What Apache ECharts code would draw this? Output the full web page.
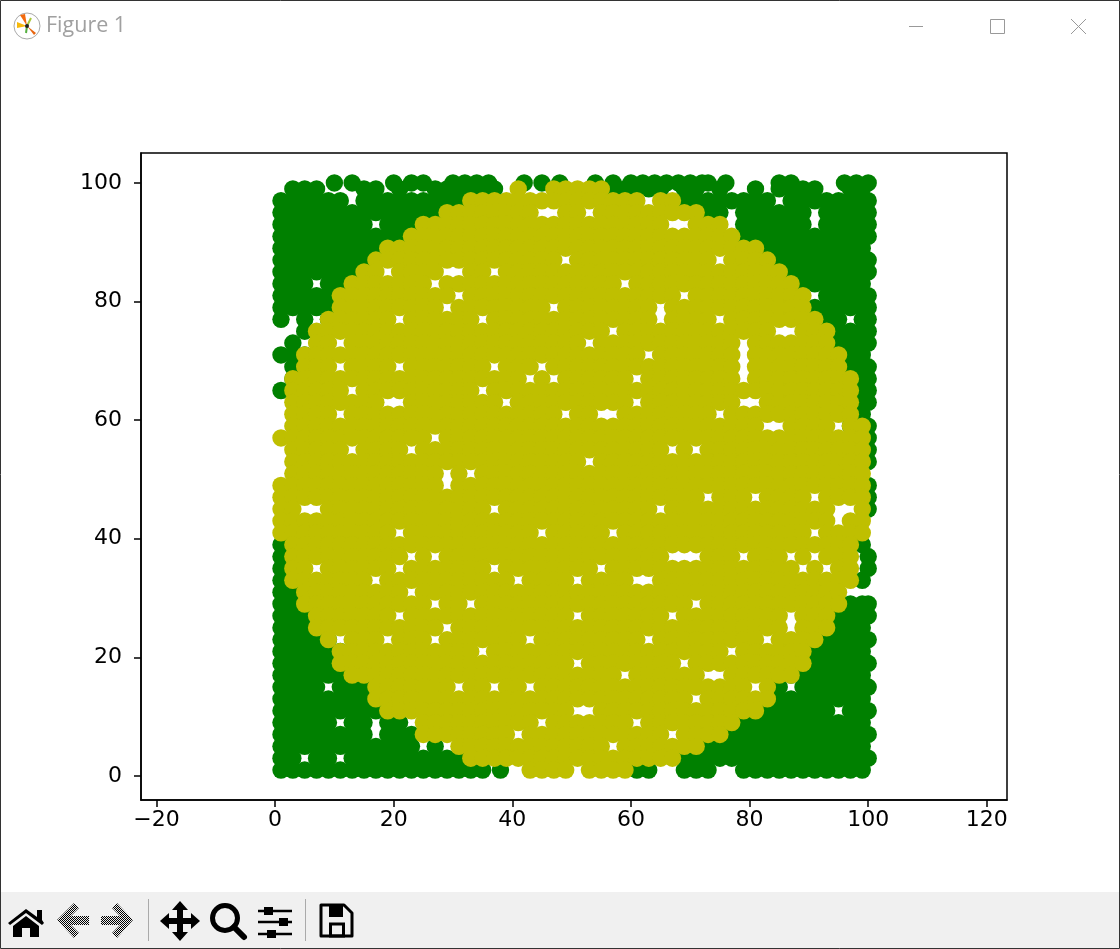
<!DOCTYPE html>
<html><head><meta charset="utf-8"><title>Figure 1</title>
<script src="https://cdn.jsdelivr.net/npm/echarts@6/dist/echarts.min.js"></script>
<style>html,body{margin:0;padding:0;background:#fff}#c{width:1120px;height:949px}</style>
</head><body><div id="c"></div>
<script>
const xTicks=[-20,0,20,40,60,80,100,120];
const yTicks=[0,20,40,60,80,100];
// each row: first number is y, the rest are the x values read at that y
const greenRows=[
[100,10,13,20,23,25,30,32,34,36,42,45,48,54,57,60,62,64,66,68,70,72,73,76,85,87,96,98,100],
[99,3,5,7,15,17,21,27,29,31,33,35,37,57,59,61,63,65,69,71,75,81,85,87,89,91,97,99],
[97,1,3,5,7,9,11,15,17,19,21,23,25,27,29,31,69,71,73,75,77,79,81,83,87,89,91,93,95,97,99,100],
[95,1,3,5,7,9,11,13,15,17,19,21,23,25,27,73,75,79,81,83,85,87,89,93,95,97,99,100],
[93,1,3,5,7,9,11,13,15,19,21,23,79,81,83,85,87,89,93,95,97,99,100],
[91,1,3,5,7,9,11,13,15,17,19,21,79,81,83,85,87,89,91,93,95,97,99,100],
[89,1,3,5,7,9,11,13,15,17,83,85,87,89,91,93,95,97,99],
[87,1,3,5,7,9,11,13,15,85,87,89,91,93,95,97,99,100],
[85,1,3,5,7,9,11,13,87,89,91,93,95,97,99,100],
[83,1,3,5,9,11,89,91,93,95,97,99],
[81,1,3,5,7,9,93,95,97,99,100],
[79,1,3,5,7,9,91,93,95,97,99,100],
[77,1,5,9,93,95,99,100],
[75,5,95,97,99,100],
[73,3,95,97,99,100],
[71,1,3,5,97,99],
[69,3,97,99,100],
[67,3,97,99,100],
[65,1,99,100],
[63,99,100],
[61,99],
[59,97,99,100],
[57,100],[55,100],[53,100],[49,100],[47,100],[45,100],
[39,1,99],
[37,1,100],
[35,1,3,100],
[33,1,3,99],
[31,1,3],
[29,1,3,95,97,99,100],
[27,1,3,5,93,95,97,99,100],
[25,1,3,5,7,93,95,97,99],
[23,1,3,5,7,9,91,93,95,97,99,100],
[21,1,3,5,7,9,11,89,91,93,95,97,99],
[19,1,3,5,7,9,11,89,91,93,95,97,99,100],
[17,1,3,5,7,9,11,13,87,89,91,93,95,97,99],
[15,1,3,5,7,11,13,15,85,89,91,93,95,97,99,100],
[13,1,3,5,7,9,11,13,15,17,83,85,87,89,91,93,95,97,99],
[11,1,3,5,7,9,11,13,15,17,19,81,83,85,87,89,91,93,97,99,100],
[9,1,3,5,7,9,13,15,19,21,79,81,83,85,87,89,91,93,95,97,99],
[7,1,3,5,7,9,11,13,15,19,21,23,75,77,79,81,83,85,87,89,91,93,95,97,99,100],
[5,1,3,5,7,9,11,13,15,17,19,21,23,27,71,73,75,77,79,81,83,85,87,89,91,93,95,97,99],
[3,1,3,7,9,13,15,17,19,21,23,25,27,29,31,61,63,69,71,73,75,77,79,81,83,85,87,89,91,93,95,97,99,100],
[1,1,3,5,7,9,11,13,15,17,19,21,23,25,27,29,31,33,35,38,61,63,69,71,73,79,81,83,85,87,89,91,93,95,97,99]
];
const yellowRows=[
[99,41,47,49,51,53,55],
[97,33,35,37,39,41,43,45,47,49,51,53,55,57,59,61,65,67],
[95,29,31,33,35,37,39,41,43,49,51,55,57,59,61,63,65,67,69,71],
[93,25,27,29,31,33,35,37,39,41,43,45,47,49,51,53,55,57,59,61,63,65,71,73,75],
[91,23,25,27,29,31,33,35,37,39,41,43,45,47,49,51,53,55,57,59,61,63,65,67,69,71,73,75,77],
[89,19,21,23,25,27,29,31,33,35,37,39,41,43,45,47,49,51,53,55,57,59,61,63,65,67,69,71,73,75,77,79,81],
[87,17,19,21,23,25,27,29,31,33,35,37,39,41,43,45,47,51,53,55,57,59,61,63,65,67,69,71,73,77,79,81,83],
[85,15,17,21,23,25,27,33,35,39,41,43,45,47,49,51,53,55,57,59,61,63,65,67,69,71,73,75,77,79,81,83,85],
[83,13,15,17,19,21,23,25,29,31,33,35,37,39,41,43,45,47,49,51,53,55,57,61,63,65,67,69,71,73,75,77,79,81,83,85,87],
[81,11,13,15,17,19,21,23,25,27,29,33,35,37,39,41,43,45,47,49,51,53,55,57,59,61,63,65,67,71,73,75,77,79,81,83,85,87,89],
[79,11,13,15,17,19,21,23,25,27,31,33,35,37,39,41,43,45,49,51,53,55,57,59,61,63,67,69,71,73,75,77,79,81,83,85,87,89],
[77,9,11,13,15,17,19,23,25,27,29,31,33,37,39,41,43,45,47,49,51,53,55,57,59,61,63,67,69,71,73,77,79,81,83,85,87,89,91],
[75,7,9,11,13,15,17,19,21,23,25,27,29,31,33,35,37,39,41,43,45,47,49,51,53,55,59,61,63,65,67,69,71,73,75,77,79,81,83,89,91,93],
[73,7,9,13,15,17,19,21,23,25,27,29,31,33,35,37,39,41,43,45,47,49,51,55,57,59,61,63,65,67,69,71,73,75,77,81,83,85,87,89,91,93],
[71,5,7,9,11,13,15,17,19,21,23,25,27,29,31,33,35,37,39,41,43,45,47,49,51,53,55,57,59,61,65,67,69,71,73,75,77,81,83,85,87,89,91,93,95],
[69,5,7,9,13,15,17,19,23,25,27,29,31,33,35,39,41,43,47,49,51,53,55,57,59,61,63,65,67,69,71,73,75,77,81,83,85,87,89,91,93,95],
[67,3,5,7,9,11,13,15,17,19,21,23,25,27,29,31,33,35,37,39,41,45,49,51,53,55,57,59,63,65,67,69,71,73,75,77,81,83,85,87,89,91,93,95,97],
[65,3,5,7,9,11,15,17,19,21,23,25,27,29,31,33,37,39,41,43,45,47,49,51,53,55,57,59,61,63,65,67,69,71,73,75,77,79,81,83,85,87,89,91,93,95,97],
[63,3,5,7,9,11,13,15,17,23,25,27,29,31,33,35,37,41,43,45,47,49,51,53,55,57,59,63,65,67,69,71,73,75,77,83,85,87,89,91,93,95,97],
[61,3,5,7,9,13,15,17,19,21,23,25,27,29,31,33,35,37,39,41,43,45,47,51,53,59,61,63,65,67,69,71,73,77,79,81,83,85,87,89,91,93,95,97],
[59,3,5,7,9,11,13,15,17,19,21,23,25,27,29,31,33,35,37,39,41,43,45,47,49,51,53,55,57,59,61,63,65,67,69,71,73,75,77,79,81,87,89,91,93,97,99],
[57,1,3,5,7,9,11,13,15,17,19,21,23,25,29,31,33,35,37,39,41,43,45,47,49,51,53,55,57,59,61,63,65,67,69,71,73,75,77,79,81,83,85,87,89,91,93,95,97,99],
[55,3,5,7,9,11,15,17,19,21,25,27,29,31,33,35,37,39,41,43,45,47,49,51,53,55,57,59,61,63,65,69,73,75,77,79,81,83,85,87,89,91,93,95,97,99],
[53,3,5,7,9,11,13,15,17,19,21,23,25,27,29,31,33,35,37,39,41,43,45,47,49,51,55,57,59,61,63,65,67,69,71,73,75,77,79,81,83,85,87,89,91,93,95,97,99],
[51,3,5,7,9,11,13,15,17,19,21,23,25,27,31,35,37,39,41,43,45,47,49,51,53,55,57,59,61,63,65,67,69,71,73,75,77,79,81,83,85,87,89,91,93,95,97,99],
[49,1,3,5,7,9,11,13,15,17,19,21,23,25,27,31,33,35,37,39,41,43,45,47,49,51,53,55,57,59,61,63,65,67,69,71,73,75,77,79,81,83,85,87,89,91,93,95,97,99],
[47,1,3,5,7,9,11,13,15,17,19,21,23,25,27,29,31,33,35,37,39,41,43,45,47,49,51,53,55,57,59,61,63,65,67,69,71,75,77,79,83,85,87,89,93,95,97,99],
[45,1,3,9,11,13,15,17,19,21,23,25,27,29,31,33,35,39,41,43,45,47,49,51,53,55,57,59,61,63,67,69,71,73,75,77,79,81,83,85,87,89,91,93,99],
[43,1,3,5,7,9,11,13,15,17,19,21,23,25,27,29,31,33,35,37,39,41,43,45,47,49,51,53,55,57,59,61,63,65,67,69,71,73,75,77,79,81,83,85,87,89,91,93,97,99],
[41,1,3,5,7,9,11,13,15,17,19,23,25,27,29,31,33,35,37,39,41,43,47,49,51,53,55,59,61,63,65,67,69,71,73,75,77,79,81,83,85,87,89,93,95,97,99],
[39,3,5,7,9,11,13,15,17,19,21,23,25,27,29,31,33,35,37,39,41,43,45,47,49,51,53,55,57,59,61,63,65,67,69,71,73,75,77,79,81,83,85,87,89,91,93,95,97],
[37,3,5,7,9,11,13,15,17,19,21,25,29,31,33,35,37,39,41,43,45,47,49,51,53,55,57,59,61,63,65,73,75,77,81,83,85,89,93,95,97],
[35,3,5,9,11,13,15,17,19,23,25,27,29,31,33,35,39,41,43,45,47,49,51,53,57,59,61,63,65,67,69,71,73,75,77,79,81,83,85,87,91,95,97],
[33,3,5,7,9,11,13,15,19,21,23,25,27,29,31,33,35,37,39,43,45,47,49,53,55,57,59,65,67,69,71,73,75,77,79,81,83,85,87,89,91,93,95,97],
[31,5,7,9,11,13,15,17,19,21,25,27,29,31,33,35,37,39,41,43,45,47,49,51,53,55,57,59,61,63,65,67,69,71,73,75,77,79,81,83,85,87,89,91,93,95],
[29,5,7,9,11,13,15,17,19,21,23,25,29,31,35,37,39,41,43,45,47,49,51,53,55,57,59,61,63,65,67,69,73,75,77,79,81,83,85,87,89,91,93,95],
[27,7,9,11,13,15,17,19,23,25,27,29,31,33,35,37,39,41,43,45,47,49,53,55,57,59,61,63,65,69,71,73,75,77,79,81,83,85,89,91,93],
[25,7,9,11,13,15,17,19,21,23,25,27,31,33,35,37,39,41,43,45,47,49,51,53,55,57,59,61,63,65,67,69,71,73,75,77,79,81,83,85,89,91,93],
[23,9,13,15,17,21,23,25,29,31,33,35,37,39,41,45,47,49,51,53,55,57,59,61,65,67,69,71,73,75,77,79,81,85,87,89,91],
[21,11,13,15,17,19,21,23,25,27,29,31,33,37,39,41,43,45,47,49,51,53,55,57,59,61,63,65,67,69,71,73,75,79,81,83,85,87,89],
[19,11,13,15,17,19,21,23,25,27,29,31,33,35,37,39,41,43,45,47,49,53,55,57,59,61,63,65,67,71,73,75,77,79,81,83,85,87,89],
[17,13,15,17,19,21,23,25,27,29,31,33,35,37,39,41,43,45,47,49,51,53,55,57,61,63,65,67,69,71,77,79,81,83,85,87],
[15,17,19,21,23,25,27,29,33,35,39,41,45,47,49,51,53,55,57,59,61,63,65,67,69,71,73,75,77,79,83],
[13,17,19,21,23,25,27,29,31,33,35,37,39,41,43,45,47,49,51,53,55,57,59,61,63,65,67,69,73,75,77,79,81,83],
[11,19,21,23,25,27,29,31,33,35,37,39,41,43,45,47,49,55,57,59,61,63,65,67,69,71,73,75,77,79,81],
[9,25,27,29,31,33,35,37,39,41,43,47,49,51,53,55,57,59,63,65,67,69,71,73,75,77],
[7,25,27,29,31,33,35,37,39,43,45,47,49,51,53,55,57,59,61,63,65,69,71,73,75],
[5,31,33,35,37,39,41,43,45,47,49,51,53,55,59,61,63,65,67,69,71],
[3,33,35,37,39,41,43,45,47,49,51,53,55,57,59,61,63,65,67],
[1,43,45,47,49,53,55,57,59]
];
function toPoints(rows){const p=[];rows.forEach(r=>{for(let i=1;i<r.length;i++)p.push([r[i],r[0]]);});return p;}
const chart=echarts.init(document.getElementById('c'),null,{renderer:'canvas'});
const FONT='DejaVu Sans';
function minusFmt(v){return String(v).replace('-','\u2212');}
function axis(ticks,min,max,margin){return {
  type:'value',min:min,max:max,
  splitLine:{show:false},
  axisLine:{show:true,onZero:false,lineStyle:{color:'#000',width:1.5}},
  axisTick:{show:true,length:7,customValues:ticks,lineStyle:{color:'#000',width:1.5}},
  axisLabel:{show:true,customValues:ticks,formatter:minusFmt,color:'#000',fontFamily:FONT,fontSize:22,margin:margin,hideOverlap:false}
};}
const mk=document.createElement('canvas');mk.width=2;mk.height=2;
const mc=mk.getContext('2d');mc.fillStyle='#eee';mc.fillRect(0,0,2,2);mc.fillStyle='#000';mc.fillRect(0,0,1,1);mc.fillRect(1,1,1,1);
const dither={image:mk,repeat:'repeat'};
const K='#000';
const gfx=[
 {type:'rect',shape:{x:0,y:892,width:1120,height:57},style:{fill:'#f0f0f0'},silent:true,z:1},
 {type:'rect',shape:{x:0.5,y:0.5,width:1119,height:948},style:{fill:null,stroke:'#333',lineWidth:1},silent:true,z:5},
 {type:'text',x:46,y:15,style:{text:'Figure 1',fill:'#a0a0a0',font:'21.5px "Open Sans"'},silent:true},
 {type:'line',shape:{x1:909,y1:26.5,x2:923,y2:26.5},style:{stroke:'#999',lineWidth:1},silent:true},
 {type:'rect',shape:{x:990.5,y:19.5,width:14,height:14},style:{fill:null,stroke:'#999',lineWidth:1},silent:true},
 {type:'line',shape:{x1:1071,y1:19,x2:1086,y2:34},style:{stroke:'#999',lineWidth:1},silent:true},
 {type:'line',shape:{x1:1086,y1:19,x2:1071,y2:34},style:{stroke:'#999',lineWidth:1},silent:true},
 // app icon
 {type:'circle',shape:{cx:27,cy:26,r:13},style:{fill:'#fff',stroke:'#aaa',lineWidth:1},silent:true},
 {type:'polygon',shape:{points:[[27,26],[20,15],[25,14]]},style:{fill:'#f26a0f'},silent:true},
 {type:'polygon',shape:{points:[[27,26],[17,22],[17,28]]},style:{fill:'#f7b90b'},silent:true},
 {type:'polygon',shape:{points:[[27,26],[36,33],[34,35]]},style:{fill:'#e8650f'},silent:true},
 {type:'line',shape:{x1:27,y1:26,x2:31,y2:18},style:{stroke:'#a8c83a',lineWidth:2},silent:true},
 {type:'line',shape:{x1:27,y1:26,x2:26,y2:33},style:{stroke:'#55b040',lineWidth:2},silent:true},
 {type:'circle',shape:{cx:27,cy:26,r:2},style:{fill:'#222'},silent:true},
 // home
 {type:'polygon',shape:{points:[[26,909],[37,917],[37,910],[42,910],[42,920],[44,923],[42,925],[26,913],[10,925],[8,923]]},style:{fill:K},silent:true,z:2},
 {type:'polygon',shape:{points:[[26,916],[39,926],[39,937],[30,937],[30,928],[22,928],[22,937],[13,937],[13,926]]},style:{fill:K},silent:true,z:2},
 // back / forward
 {type:'polygon',shape:{points:[[57,920],[74,903],[79,908],[71,916],[89,916],[89,925],[71,925],[79,933],[74,938]]},style:{fill:dither},silent:true,z:2},
 {type:'polygon',shape:{points:[[133,920],[117,903],[112,908],[120,916],[101,916],[101,925],[120,925],[112,933],[117,938]]},style:{fill:dither},silent:true,z:2},
 {type:'line',shape:{x1:148.5,y1:899,x2:148.5,y2:941},style:{stroke:'#aaa',lineWidth:1},silent:true,z:2},
 {type:'line',shape:{x1:305.5,y1:899,x2:305.5,y2:941},style:{stroke:'#aaa',lineWidth:1},silent:true,z:2},
 // move
 {type:'polygon',shape:{points:[[180,901],[188,910],[183,910],[183,918],[191,918],[191,913],[200,921],[191,929],[191,924],[183,924],[183,932],[188,932],[180,941],[172,932],[177,932],[177,924],[169,924],[169,929],[160,921],[169,913],[169,918],[177,918],[177,910],[172,910]]},style:{fill:K},silent:true,z:2},
 // zoom
 {type:'circle',shape:{cx:225,cy:918,r:12.5},style:{fill:null,stroke:K,lineWidth:5},silent:true,z:2},
 {type:'line',shape:{x1:234,y1:927,x2:244,y2:937},style:{stroke:K,lineWidth:6,lineCap:'round'},silent:true,z:2},
 // sliders
 {type:'line',shape:{x1:258,y1:911,x2:292,y2:911},style:{stroke:K,lineWidth:2.5},silent:true,z:2},
 {type:'line',shape:{x1:258,y1:922,x2:292,y2:922},style:{stroke:K,lineWidth:2.5},silent:true,z:2},
 {type:'line',shape:{x1:258,y1:934,x2:292,y2:934},style:{stroke:K,lineWidth:2.5},silent:true,z:2},
 {type:'rect',shape:{x:264,y:907,width:9,height:8},style:{fill:K},silent:true,z:2},
 {type:'rect',shape:{x:279,y:918,width:9,height:8},style:{fill:K},silent:true,z:2},
 {type:'rect',shape:{x:267,y:930,width:9,height:8},style:{fill:K},silent:true,z:2},
 // save
 {type:'polygon',shape:{points:[[321,905],[344,905],[352,913],[352,936],[321,936]]},style:{fill:null,stroke:K,lineWidth:3,lineJoin:'round'},silent:true,z:2},
 {type:'polygon',shape:{points:[[329,905],[343,905],[343,917],[329,917]]},style:{fill:K},silent:true,z:2},
 {type:'rect',shape:{x:330.5,y:924,width:13,height:12},style:{fill:null,stroke:K,lineWidth:3},silent:true,z:2}
];
chart.setOption({
  animation:false,backgroundColor:'#fff',
  grid:{left:141,top:153,width:866,height:647,containLabel:false,show:true,borderColor:'#000',borderWidth:1.5,backgroundColor:'#fff'},
  xAxis:axis(xTicks,-22.6,123.4,9),
  yAxis:axis(yTicks,-4.05,105.05,19),
  series:[
    {type:'scatter',name:'outside',data:toPoints(greenRows),symbol:'circle',symbolSize:17.4,itemStyle:{color:'#008000',opacity:1},z:2,large:false,silent:true,progressive:0},
    {type:'scatter',name:'inside',data:toPoints(yellowRows),symbol:'circle',symbolSize:17.4,itemStyle:{color:'#bfbf00',opacity:1},z:3,large:false,silent:true,progressive:0}
  ],
  graphic:gfx
});
</script></body></html>
